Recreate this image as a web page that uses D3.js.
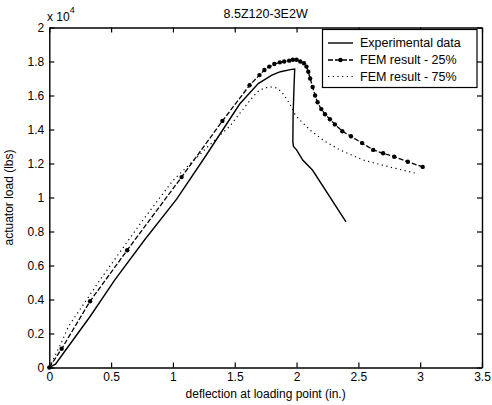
<!DOCTYPE html>
<html>
<head>
<meta charset="utf-8">
<script src="https://cdn.jsdelivr.net/npm/d3@7"></script>
<style>
  body { margin: 0; background: #fff; }
  text { font-family: "Liberation Sans", Arial, sans-serif; fill: #000; }
</style>
</head>
<body>
<div id="chart"></div>
<script>
// ---- data (load in units of 10^4 lbs) ----
const expX = [0, 0.05, 0.13, 0.33, 0.53, 0.77, 1.03, 1.27, 1.54, 1.69, 1.80, 1.87, 1.95, 1.985, 1.978, 1.972, 1.97, 1.975, 2.0, 2.05, 2.13, 2.40];
const expY = [0, 0.02, 0.10, 0.30, 0.515, 0.75, 0.99, 1.25, 1.55, 1.67, 1.72, 1.74, 1.752, 1.756, 1.62, 1.48, 1.33, 1.30, 1.28, 1.22, 1.16, 0.857];

const fem25X = [0, 0.1, 0.33, 0.63, 1.07, 1.40, 1.62, 1.70, 1.74, 1.78, 1.82, 1.865, 1.90, 1.94, 1.97, 2.0, 2.03, 2.06, 2.08, 2.095, 2.11, 2.13, 2.15, 2.17, 2.20, 2.23, 2.27, 2.31, 2.37, 2.44, 2.53, 2.62, 2.70, 2.79, 2.90, 3.02];
const fem25Y = [0, 0.11, 0.39, 0.69, 1.12, 1.45, 1.66, 1.72, 1.75, 1.77, 1.785, 1.795, 1.80, 1.805, 1.81, 1.81, 1.80, 1.79, 1.77, 1.74, 1.70, 1.65, 1.60, 1.56, 1.52, 1.49, 1.46, 1.43, 1.39, 1.36, 1.32, 1.28, 1.26, 1.24, 1.21, 1.18];

const fem75X = [0, 0.1, 0.154, 0.41, 0.75, 1.0, 1.27, 1.46, 1.6, 1.68, 1.74, 1.80, 1.84, 1.88, 1.92, 1.96, 1.99, 2.04, 2.12, 2.23, 2.35, 2.54, 2.75, 2.98];
const fem75Y = [0, 0.15, 0.24, 0.515, 0.86, 1.10, 1.29, 1.42, 1.55, 1.62, 1.645, 1.65, 1.645, 1.62, 1.58, 1.53, 1.485, 1.446, 1.39, 1.33, 1.28, 1.22, 1.18, 1.14];

const xTicks = [0, 0.5, 1, 1.5, 2, 2.5, 3, 3.5];
const yTicks = [0, 0.2, 0.4, 0.6, 0.8, 1, 1.2, 1.4, 1.6, 1.8, 2];
const legendLabels = ["Experimental data", "FEM result - 25%", "FEM result - 75%"];

const width = 492, height = 405;
const margin = {top: 27.5, right: 10, bottom: 37.5, left: 49.3};

const svg = d3.select("#chart").append("svg")
  .attr("width", width)
  .attr("height", height);

const xscale = d3.scaleLinear()
  .domain([0, 3.5])
  .range([margin.left, width - margin.right]);

const yscale = d3.scaleLinear()
  .domain([0, 2])
  .range([height - margin.bottom, margin.top]);

const tickFmt = d => d3.format("")(+d.toFixed(1));

// axes, MATLAB style: ticks inside, box all round
const xAxis = g => g
  .attr("transform", `translate(0, ${height - margin.bottom})`)
  .call(d3.axisBottom(xscale).tickValues(xTicks).tickFormat(tickFmt).tickSizeInner(-5).tickSizeOuter(0).tickPadding(5));
const yAxis = g => g
  .attr("transform", `translate(${margin.left},0)`)
  .call(d3.axisLeft(yscale).tickValues(yTicks).tickFormat(tickFmt).tickSizeInner(-5).tickSizeOuter(0).tickPadding(5));
const xTop = g => g
  .attr("transform", `translate(0, ${margin.top})`)
  .call(d3.axisTop(xscale).tickValues(xTicks).tickFormat("").tickSizeInner(-5).tickSizeOuter(0));
const yRight = g => g
  .attr("transform", `translate(${width - margin.right},0)`)
  .call(d3.axisRight(yscale).tickValues(yTicks).tickFormat("").tickSizeInner(-5).tickSizeOuter(0));

[xAxis, yAxis, xTop, yRight].forEach(ax => {
  const g = svg.append("g").call(ax);
  g.selectAll("text").style("font-size", "12px").attr("fill", "#000");
  g.selectAll("line").attr("stroke", "#000").attr("stroke-width", 1.2);
  g.select(".domain").attr("stroke", "#000").attr("stroke-width", 1.4);
});

// series
const line = d3.line()
  .x(d => xscale(d[0]))
  .y(d => yscale(d[1]));

const expData = d3.zip(expX, expY);
const fem25Data = d3.zip(fem25X, fem25Y);
const fem75Data = d3.zip(fem75X, fem75Y);

svg.append("path")
  .attr("d", line(fem75Data))
  .attr("fill", "none")
  .attr("stroke", "#000")
  .attr("stroke-width", 1.2)
  .attr("stroke-dasharray", "1.2,3.5");

svg.append("path")
  .attr("d", line(expData))
  .attr("fill", "none")
  .attr("stroke", "#000")
  .attr("stroke-width", 1.4);

svg.append("path")
  .attr("d", line(fem25Data))
  .attr("fill", "none")
  .attr("stroke", "#000")
  .attr("stroke-width", 1.3)
  .attr("stroke-dasharray", "5,2");

svg.append("g")
  .attr("fill", "#000")
  .selectAll("circle")
  .data(fem25Data)
  .join("circle")
  .attr("cx", d => xscale(d[0]))
  .attr("cy", d => yscale(d[1]))
  .attr("r", 2.2);

// titles
svg.append("text")
  .attr("x", (margin.left + width - margin.right) / 2)
  .attr("y", 18)
  .attr("text-anchor", "middle")
  .style("font-size", "12.5px")
  .text("8.5Z120-3E2W");

svg.append("text")
  .attr("x", (margin.left + width - margin.right) / 2)
  .attr("y", 398)
  .attr("text-anchor", "middle")
  .style("font-size", "12px")
  .text("deflection at loading point (in.)");

svg.append("text")
  .attr("transform", `translate(13, ${(margin.top + height - margin.bottom) / 2}) rotate(-90)`)
  .attr("text-anchor", "middle")
  .style("font-size", "12px")
  .text("actuator load (lbs)");

const expo = svg.append("text")
  .attr("x", 47)
  .attr("y", 21)
  .style("font-size", "12px");
expo.append("tspan").text("x 10");
expo.append("tspan").attr("dy", -8).style("font-size", "9px").text("4");

// legend
const legend = svg.append("g");
legend.append("rect")
  .attr("x", 322.5)
  .attr("y", 29.5)
  .attr("width", 154.5)
  .attr("height", 58)
  .attr("fill", "#fff")
  .attr("stroke", "#000")
  .attr("stroke-width", 1.2);

const rowY = [43, 60, 76.5];
const styles = [
  {dash: null, marker: false, w: 1.4},
  {dash: "5,2", marker: true, w: 1.3},
  {dash: "1.2,3.5", marker: false, w: 1.2}
];
legendLabels.forEach((lab, i) => {
  const row = legend.append("g");
  row.append("line")
    .attr("x1", 328).attr("x2", 353)
    .attr("y1", rowY[i]).attr("y2", rowY[i])
    .attr("stroke", "#000")
    .attr("stroke-width", styles[i].w)
    .attr("stroke-dasharray", styles[i].dash);
  if (styles[i].marker) {
    row.append("circle").attr("cx", 340.5).attr("cy", rowY[i]).attr("r", 2.2).attr("fill", "#000");
  }
  row.append("text")
    .attr("x", 360)
    .attr("y", rowY[i])
    .attr("dy", "0.35em")
    .style("font-size", "12.5px")
    .text(lab);
});
</script>
</body>
</html>
